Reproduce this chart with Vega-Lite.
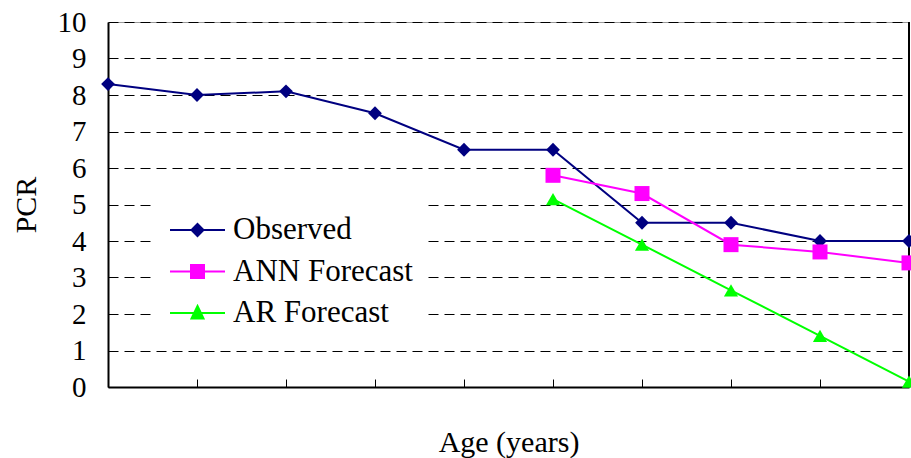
{
  "$schema": "https://vega.github.io/schema/vega-lite/v6.json",
  "width": 801,
  "height": 365,
  "autosize": {"type": "none"},
  "padding": {"left": 108, "top": 22, "right": 2, "bottom": 71},
  "background": "white",
  "config": {
    "font": "Liberation Serif",
    "view": {"stroke": "#999999", "strokeWidth": 1},
    "axis": {
      "labelFont": "Liberation Serif",
      "titleFont": "Liberation Serif",
      "labelColor": "#000000",
      "titleColor": "#000000",
      "labelFontSize": 29,
      "titleFontSize": 30,
      "titleFontWeight": "normal",
      "domainColor": "#000000",
      "domainWidth": 2,
      "tickColor": "#000000"
    },
    "legend": {
      "labelFont": "Liberation Serif",
      "labelFontSize": 31,
      "labelColor": "#000000"
    }
  },
  "data": {
    "values": [
      {"series": "Observed", "age": 0, "pcr": 8.3},
      {"series": "Observed", "age": 1, "pcr": 8.0},
      {"series": "Observed", "age": 2, "pcr": 8.1},
      {"series": "Observed", "age": 3, "pcr": 7.5},
      {"series": "Observed", "age": 4, "pcr": 6.5},
      {"series": "Observed", "age": 5, "pcr": 6.5},
      {"series": "Observed", "age": 6, "pcr": 4.5},
      {"series": "Observed", "age": 7, "pcr": 4.5},
      {"series": "Observed", "age": 8, "pcr": 4.0},
      {"series": "Observed", "age": 9, "pcr": 4.0},
      {"series": "ANN Forecast", "age": 5, "pcr": 5.8},
      {"series": "ANN Forecast", "age": 6, "pcr": 5.3},
      {"series": "ANN Forecast", "age": 7, "pcr": 3.9},
      {"series": "ANN Forecast", "age": 8, "pcr": 3.7},
      {"series": "ANN Forecast", "age": 9, "pcr": 3.4},
      {"series": "AR Forecast", "age": 5, "pcr": 5.15},
      {"series": "AR Forecast", "age": 6, "pcr": 3.9},
      {"series": "AR Forecast", "age": 7, "pcr": 2.65},
      {"series": "AR Forecast", "age": 8, "pcr": 1.4},
      {"series": "AR Forecast", "age": 9, "pcr": 0.15}
    ]
  },
  "encoding": {
    "x": {
      "field": "age",
      "type": "quantitative",
      "scale": {"domain": [0, 9], "nice": false, "zero": false},
      "axis": {
        "title": "Age (years)",
        "values": [1, 2, 3, 4, 5, 6, 7, 8],
        "labels": false,
        "grid": false,
        "tickSize": -8,
        "tickWidth": 1,
        "titlePadding": 40
      }
    },
    "y": {
      "field": "pcr",
      "type": "quantitative",
      "scale": {"domain": [0, 10], "nice": false},
      "axis": {
        "title": "PCR",
        "values": [0, 1, 2, 3, 4, 5, 6, 7, 8, 9, 10],
        "ticks": false,
        "labelPadding": 22,
        "titlePadding": 16,
        "grid": true,
        "gridColor": "#000000",
        "gridDash": [10, 6],
        "gridWidth": 1
      }
    },
    "color": {
      "field": "series",
      "type": "nominal",
      "scale": {
        "domain": ["Observed", "ANN Forecast", "AR Forecast"],
        "range": ["#000080", "#FF00FF", "#00FF00"]
      },
      "legend": {
        "title": null,
        "orient": "none",
        "legendX": 47,
        "legendY": 172,
        "padding": 15,
        "fillColor": "white",
        "rowPadding": 5.5,
        "symbolSize": 1600,
        "symbolStrokeWidth": 2,
        "labelOffset": 21,
        "labelLimit": 400,
        "labelFont": "Liberation Serif",
        "labelFontSize": 31,
        "encode": {
          "symbols": {
            "update": {
              "shape": {
                "signal": "datum.value === 'Observed' ? 'M-1.05,0H1.7M0.325,-0.3L0.625,0L0.325,0.3L0.025,0Z' : datum.value === 'ANN Forecast' ? 'M-1.05,0H1.7M0,-0.325H0.65V0.325H0Z' : 'M-1.05,0H1.7M0.325,-0.35L0.625,0.275H0.025Z'"
              },
              "size": {"value": 1600},
              "fill": {"scale": "color", "field": "value"},
              "stroke": {"scale": "color", "field": "value"},
              "strokeWidth": {"value": 2},
              "opacity": {"value": 1},
              "fillOpacity": {"value": 1},
              "strokeOpacity": {"value": 1}
            }
          }
        }
      }
    }
  },
  "layer": [
    {
      "mark": {"type": "rule", "color": "#000000", "strokeWidth": 1.5},
      "encoding": {
        "x": {"datum": 9},
        "y": {"datum": 0},
        "y2": {"datum": 10},
        "color": {"value": "#000000"}
      }
    },
    {
      "mark": {"type": "line", "strokeWidth": 2}
    },
    {
      "transform": [{"filter": "datum.series === 'Observed'"}],
      "mark": {"type": "point", "shape": "diamond", "size": 190, "filled": true, "opacity": 1}
    },
    {
      "transform": [{"filter": "datum.series === 'ANN Forecast'"}],
      "mark": {"type": "point", "shape": "square", "size": 225, "filled": true, "opacity": 1}
    },
    {
      "transform": [{"filter": "datum.series === 'AR Forecast'"}],
      "mark": {"type": "point", "shape": "triangle-up", "size": 200, "filled": true, "opacity": 1}
    }
  ]
}
